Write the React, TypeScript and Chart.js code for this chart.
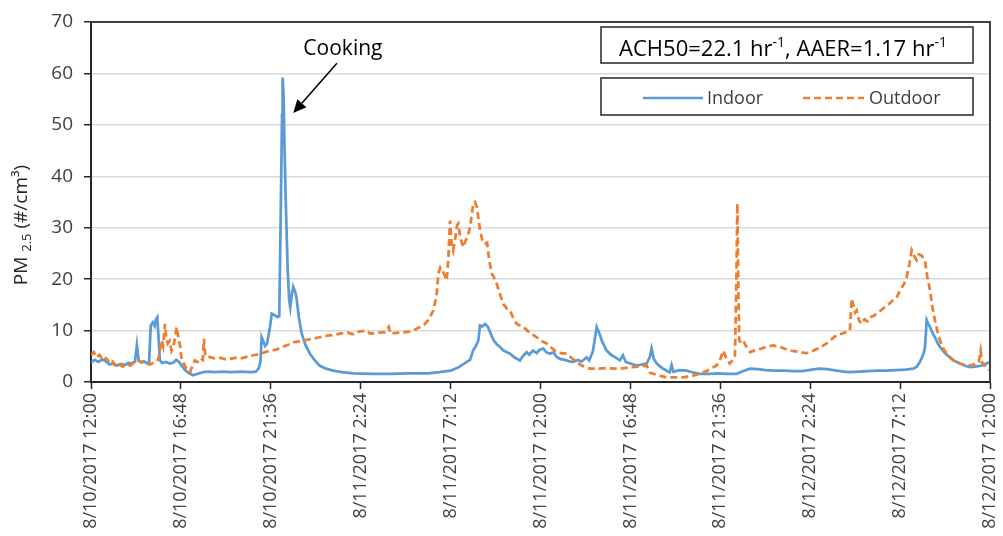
import React, { useEffect, useRef } from "react";
import { Chart, registerables } from "chart.js";

Chart.register(...registerables);

// Hours since 8/10/2017 12:00 and PM2.5 readings
const indoorHours = [
  0, 0.2, 0.4, 0.6, 0.8, 1.0, 1.2, 1.4, 1.6, 1.8, 2.0, 2.2, 2.35, 2.45, 2.55, 2.7, 2.85, 3.0, 3.1, 3.19,
  3.3, 3.4, 3.47, 3.54, 3.6, 3.68, 3.8, 4.0, 4.2, 4.4, 4.55, 4.7, 4.85, 5.0, 5.2, 5.45, 5.7, 6.0, 6.3, 6.6,
  7.0, 7.5, 8.0, 8.5, 8.8, 8.95, 9.05, 9.11, 9.2, 9.3, 9.4, 9.55, 9.65, 9.8, 9.95, 10.05, 10.12, 10.2, 10.23, 10.28,
  10.33, 10.4, 10.5, 10.58, 10.64, 10.72, 10.8, 10.9, 10.97, 11.1, 11.25, 11.45, 11.69, 11.95, 12.2, 12.55, 12.93, 13.4, 14.0, 15.0,
  16.0, 17.0, 18.0, 18.6, 19.2, 19.6, 20.06, 20.24, 20.4, 20.55, 20.68, 20.77, 20.9, 21.04, 21.2, 21.35, 21.5, 21.65, 21.84, 22.0,
  22.2, 22.37, 22.6, 22.9, 23.1, 23.26, 23.4, 23.6, 23.8, 23.95, 24.15, 24.3, 24.5, 24.7, 24.85, 25.04, 25.3, 25.55, 25.75, 26.0,
  26.2, 26.46, 26.6, 26.8, 27.0, 27.15, 27.3, 27.53, 27.8, 28.0, 28.24, 28.4, 28.55, 28.8, 29.13, 29.4, 29.67, 29.85, 29.93, 30.05,
  30.2, 30.5, 30.73, 30.9, 31.0, 31.1, 31.4, 31.8, 32.1, 32.5, 33.0, 33.5, 34.0, 34.47, 34.8, 35.18, 35.6, 36.0, 36.5, 37.0,
  37.5, 38.0, 38.5, 38.9, 39.3, 39.8, 40.2, 40.5, 41.0, 41.5, 42.0, 42.5, 43.0, 43.5, 43.9, 44.1, 44.26, 44.45, 44.53, 44.62,
  44.7, 44.8, 44.9, 45.06, 45.2, 45.33, 45.6, 45.86, 46.1, 46.4, 46.7, 46.93, 47.2, 47.6, 47.8, 48.0,
];
const indoorValues = [
  3.8, 4.3, 3.9, 4.4, 4.0, 3.4, 3.6, 3.2, 3.5, 3.3, 3.7, 3.6, 4.0, 7.2, 4.2, 3.8, 4.0, 3.6, 3.8, 11.0,
  11.6, 10.9, 12.2, 12.6, 9.0, 4.2, 3.7, 3.9, 3.6, 3.8, 4.3, 3.9, 3.1, 2.4, 1.8, 1.3, 1.6, 1.9, 2.0, 1.9,
  2.0, 1.9, 2.0, 1.9, 2.0, 2.6, 4.0, 8.7, 7.9, 7.0, 7.5, 10.5, 13.3, 13.0, 12.6, 12.8, 30.0, 52.0, 59.2, 56.0,
  46.0, 35.0, 22.0, 16.0, 14.5, 17.0, 18.5, 17.5, 16.5, 12.5, 9.4, 7.2, 5.5, 4.2, 3.2, 2.6, 2.2, 1.9, 1.7, 1.6,
  1.6, 1.7, 1.7, 1.9, 2.2, 2.8, 3.9, 4.3, 6.1, 7.0, 8.1, 11.0, 10.8, 11.3, 10.7, 9.3, 8.1, 7.4, 6.8, 6.2,
  5.8, 5.5, 4.8, 4.2, 5.2, 5.8, 5.3, 6.1, 5.6, 6.3, 6.5, 5.8, 5.5, 5.8, 4.9, 4.5, 4.3, 4.0, 3.9, 4.3,
  4.0, 4.8, 4.2, 6.0, 10.7, 9.4, 7.8, 6.1, 5.2, 4.8, 4.2, 5.2, 3.9, 3.6, 3.2, 3.4, 3.6, 5.0, 6.5, 4.5,
  3.6, 2.7, 2.2, 1.9, 3.3, 2.0, 2.3, 2.2, 1.9, 1.6, 1.6, 1.7, 1.6, 1.6, 2.1, 2.6, 2.5, 2.3, 2.2, 2.2,
  2.1, 2.1, 2.4, 2.6, 2.5, 2.2, 2.0, 1.9, 2.0, 2.1, 2.2, 2.2, 2.3, 2.4, 2.6, 3.0, 3.9, 5.5, 6.8, 12.0,
  11.3, 10.7, 9.8, 8.7, 7.6, 6.8, 5.6, 4.8, 4.1, 3.6, 3.1, 2.9, 3.0, 3.2, 3.6, 3.9,
];

const outdoorHours = [
  0, 0.15, 0.3, 0.45, 0.65, 0.8, 0.95, 1.1, 1.25, 1.37, 1.5, 1.7, 1.9, 2.1, 2.3, 2.5, 2.65, 2.8, 2.97, 3.15,
  3.35, 3.5, 3.6, 3.7, 3.77, 3.85, 3.95, 4.02, 4.1, 4.2, 4.3, 4.4, 4.5, 4.57, 4.65, 4.75, 4.85, 4.95, 5.1, 5.29,
  5.4, 5.55, 5.7, 5.85, 5.97, 6.03, 6.1, 6.3, 6.6, 6.9, 7.2, 7.4, 7.7, 8.0, 8.3, 8.65, 9.0, 9.3, 9.56, 9.9,
  10.2, 10.5, 10.8, 11.1, 11.5, 11.86, 12.2, 12.6, 12.9, 13.3, 13.7, 14.0, 14.3, 14.7, 14.9, 15.3, 15.7, 15.9, 16.0, 16.5,
  17.0, 17.3, 17.57, 17.8, 18.0, 18.15, 18.28, 18.4, 18.46, 18.55, 18.65, 18.72, 18.85, 18.99, 19.08, 19.17, 19.25, 19.34, 19.45, 19.55,
  19.61, 19.7, 19.8, 19.88, 20.0, 20.1, 20.24, 20.35, 20.41, 20.5, 20.6, 20.7, 20.77, 20.9, 21.04, 21.15, 21.25, 21.39, 21.5, 21.66,
  21.8, 22.01, 22.2, 22.37, 22.55, 22.73, 22.9, 23.08, 23.3, 23.55, 23.8, 24.05, 24.33, 24.6, 24.86, 25.1, 25.4, 25.65, 25.93, 26.2,
  26.45, 26.64, 27.0, 27.5, 28.0, 28.24, 28.7, 29.2, 29.67, 29.85, 30.02, 30.4, 30.73, 31.2, 31.6, 32.0, 32.5, 32.9, 33.2, 33.4,
  33.6, 33.76, 33.9, 34.1, 34.25, 34.38, 34.46, 34.51, 34.56, 34.61, 34.7, 34.83, 35.0, 35.18, 35.5, 35.8, 36.1, 36.43, 36.8, 37.0,
  37.32, 37.7, 38.0, 38.21, 38.5, 38.8, 39.1, 39.4, 39.6, 39.81, 40.1, 40.35, 40.52, 40.58, 40.61, 40.7, 40.8, 40.88, 41.0, 41.15,
  41.3, 41.45, 41.59, 41.8, 42.0, 42.3, 42.5, 42.7, 43.02, 43.2, 43.4, 43.55, 43.7, 43.82, 43.95, 44.08, 44.2, 44.35, 44.53, 44.65,
  44.8, 44.93, 45.06, 45.2, 45.33, 45.55, 45.86, 46.1, 46.4, 46.7, 46.93, 47.2, 47.4, 47.5, 47.58, 47.8, 48.0,
];
const outdoorValues = [
  5.2, 5.8, 4.8, 5.3, 4.2, 4.6, 4.0, 4.4, 3.3, 2.9, 3.4, 3.0, 3.5, 3.2, 3.8, 4.2, 3.9, 4.0, 3.6, 3.4,
  3.8, 4.0, 4.5, 6.5, 8.1, 7.0, 11.3, 8.5, 7.5, 8.0, 6.1, 7.0, 8.8, 10.7, 9.0, 7.1, 4.2, 3.6, 2.6, 1.9,
  3.0, 4.2, 3.9, 4.6, 4.3, 8.4, 5.0, 4.9, 4.6, 4.7, 4.4, 4.5, 4.7, 4.6, 4.9, 5.2, 5.4, 5.8, 6.1, 6.3,
  6.8, 7.2, 7.7, 7.9, 8.2, 8.4, 8.7, 9.0, 9.1, 9.4, 9.6, 9.3, 9.8, 10.0, 9.4, 9.6, 9.7, 10.7, 9.4, 9.6,
  9.8, 10.2, 10.7, 11.2, 12.0, 13.0, 13.9, 16.0, 17.2, 21.1, 22.3, 22.0, 21.0, 19.8, 24.0, 31.4, 27.0, 25.6, 28.0, 30.5,
  30.8, 28.5, 27.0, 26.2, 27.5, 28.2, 30.1, 33.0, 34.7, 35.0, 34.0, 31.5, 29.5, 27.5, 26.9, 27.1, 24.0, 21.1, 20.5, 19.1,
  17.5, 15.2, 14.3, 13.9, 12.4, 11.3, 11.0, 10.7, 10.0, 9.3, 8.7, 8.0, 7.5, 6.6, 5.8, 5.6, 5.5, 4.7, 3.9, 3.2,
  2.8, 2.6, 2.6, 2.7, 2.6, 2.6, 2.8, 3.0, 3.2, 1.8, 1.6, 1.2, 0.9, 0.9, 0.9, 1.1, 1.6, 2.2, 2.8, 3.2,
  4.5, 6.1, 4.8, 3.6, 4.2, 4.8, 20.0, 34.7, 20.0, 8.1, 7.6, 8.0, 6.8, 5.8, 6.2, 6.5, 6.9, 7.1, 6.8, 6.5,
  6.1, 5.9, 5.7, 5.6, 6.0, 6.5, 7.1, 7.8, 8.5, 9.1, 9.4, 9.8, 10.0, 14.0, 16.2, 15.0, 13.5, 13.9, 12.0, 11.3,
  12.2, 11.8, 12.6, 12.9, 13.4, 14.3, 14.8, 15.5, 16.5, 17.8, 19.0, 20.4, 23.0, 25.6, 24.5, 23.7, 24.8, 24.6, 23.5, 20.5,
  17.8, 14.5, 12.0, 9.8, 8.1, 6.2, 4.8, 4.0, 3.6, 3.3, 3.2, 3.5, 3.9, 6.1, 3.7, 3.0, 2.2,
];

const tickHours = [0, 4.8, 9.6, 14.4, 19.2, 24, 28.8, 33.6, 38.4, 43.2, 48];
const tickLabels = [
  "8/10/2017 12:00", "8/10/2017 16:48", "8/10/2017 21:36", "8/11/2017 2:24", "8/11/2017 7:12",
  "8/11/2017 12:00", "8/11/2017 16:48", "8/11/2017 21:36", "8/12/2017 2:24", "8/12/2017 7:12",
  "8/12/2017 12:00",
];

const seriesNames = ["Indoor", "Outdoor"];
const INDOOR_COLOR = "#5B9BD5";
const OUTDOOR_COLOR = "#ED7D31";
const FAMILY = '"Open Sans", "Liberation Sans", sans-serif';
const TEXT = "#404040";

type Run = { text: string; size: number; dy: number };

function drawRuns(ctx: CanvasRenderingContext2D, runs: Run[], x: number, y: number, align: "left" | "center", color: string) {
  const widths = runs.map((r) => {
    ctx.font = `${r.size}px ${FAMILY}`;
    return ctx.measureText(r.text).width;
  });
  const total = widths.reduce((a, b) => a + b, 0);
  let cx = align === "center" ? x - total / 2 : x;
  ctx.textAlign = "left";
  ctx.textBaseline = "alphabetic";
  ctx.fillStyle = color;
  runs.forEach((r, i) => {
    ctx.font = `${r.size}px ${FAMILY}`;
    ctx.fillText(r.text, cx, y + r.dy);
    cx += widths[i];
  });
}

const decorations = {
  id: "decorations",
  afterDraw(chart: any) {
    const { ctx, chartArea, scales } = chart;
    const xs = scales.x;
    const ys = scales.y;
    ctx.save();

    // frame around the plot area
    ctx.strokeStyle = "#404040";
    ctx.lineWidth = 2;
    ctx.beginPath();
    ctx.moveTo(chartArea.left, chartArea.top);
    ctx.lineTo(chartArea.right, chartArea.top);
    ctx.lineTo(chartArea.right, chartArea.bottom);
    ctx.stroke();

    // info box
    ctx.fillStyle = "#fff";
    ctx.fillRect(601, 27, 372, 36);
    ctx.strokeStyle = "#262626";
    ctx.lineWidth = 1.5;
    ctx.strokeRect(601, 27, 372, 36);
    drawRuns(
      ctx,
      [
        { text: "ACH50=22.1 hr", size: 22, dy: 0 },
        { text: "-1", size: 14, dy: -9 },
        { text: ", AAER=1.17 hr", size: 22, dy: 0 },
        { text: "-1", size: 14, dy: -9 },
      ],
      783,
      56,
      "center",
      "#000"
    );

    // legend box
    ctx.fillStyle = "#fff";
    ctx.fillRect(601, 78, 372, 37);
    ctx.strokeStyle = "#262626";
    ctx.lineWidth = 1.5;
    ctx.strokeRect(601, 78, 372, 37);
    const ly = 98;
    ctx.lineWidth = 2.5;
    ctx.strokeStyle = INDOOR_COLOR;
    ctx.setLineDash([]);
    ctx.beginPath();
    ctx.moveTo(643, ly);
    ctx.lineTo(703, ly);
    ctx.stroke();
    ctx.strokeStyle = OUTDOOR_COLOR;
    ctx.setLineDash([7, 4]);
    ctx.beginPath();
    ctx.moveTo(803, ly);
    ctx.lineTo(864, ly);
    ctx.stroke();
    ctx.setLineDash([]);
    ctx.fillStyle = TEXT;
    ctx.font = `18px ${FAMILY}`;
    ctx.textAlign = "left";
    ctx.textBaseline = "alphabetic";
    ctx.fillText(seriesNames[0], 707, 104);
    ctx.fillText(seriesNames[1], 869, 104);

    // cooking annotation
    ctx.fillStyle = "#000";
    ctx.font = `21px ${FAMILY}`;
    ctx.textAlign = "center";
    ctx.fillText("Cooking", xs.getPixelForValue(13.45), ys.getPixelForValue(63.6));
    const sx = xs.getPixelForValue(13.13);
    const sy = ys.getPixelForValue(62.0);
    const tx = xs.getPixelForValue(10.8);
    const ty = ys.getPixelForValue(52.3);
    const ang = Math.atan2(ty - sy, tx - sx);
    const head = 13;
    const bx = tx - head * Math.cos(ang);
    const by = ty - head * Math.sin(ang);
    ctx.strokeStyle = "#000";
    ctx.lineWidth = 1.5;
    ctx.beginPath();
    ctx.moveTo(sx, sy);
    ctx.lineTo(bx, by);
    ctx.stroke();
    ctx.fillStyle = "#000";
    ctx.beginPath();
    ctx.moveTo(tx, ty);
    ctx.lineTo(bx + 6 * Math.sin(ang), by - 6 * Math.cos(ang));
    ctx.lineTo(bx - 6 * Math.sin(ang), by + 6 * Math.cos(ang));
    ctx.closePath();
    ctx.fill();

    // y-axis title with subscript
    ctx.translate(27, (chartArea.top + chartArea.bottom) / 2 + 23);
    ctx.rotate(-Math.PI / 2);
    drawRuns(
      ctx,
      [
        { text: "PM ", size: 19, dy: 0 },
        { text: "2.5", size: 13, dy: 4 },
        { text: " (#/cm³)", size: 19, dy: 0 },
      ],
      0,
      0,
      "center",
      "#262626"
    );
    ctx.restore();
  },
};

export default function App() {
  const canvasRef = useRef<HTMLCanvasElement | null>(null);

  useEffect(() => {
    const canvas = canvasRef.current;
    if (!canvas) return;
    const indoorPts = indoorHours.map((h, i) => ({ x: h, y: indoorValues[i] }));
    const outdoorPts = outdoorHours.map((h, i) => ({ x: h, y: outdoorValues[i] }));

    const chart = new Chart(canvas, {
      type: "line",
      data: {
        datasets: [
          {
            label: seriesNames[0],
            data: indoorPts,
            borderColor: INDOOR_COLOR,
            borderWidth: 2.75,
            pointRadius: 0,
            tension: 0,
            order: 1,
          },
          {
            label: seriesNames[1],
            data: outdoorPts,
            borderColor: OUTDOOR_COLOR,
            borderWidth: 2.75,
            borderDash: [7, 4],
            pointRadius: 0,
            tension: 0,
            order: 0,
          },
        ],
      },
      options: {
        responsive: false,
        animation: false,
        layout: { padding: { top: 22, right: 13, left: 0, bottom: 0 } },
        plugins: { legend: { display: false }, tooltip: { enabled: false } },
        scales: {
          x: {
            type: "linear",
            min: 0,
            max: 48,
            afterBuildTicks: (s: any) => {
              s.ticks = tickHours.map((v) => ({ value: v }));
            },
            afterFit: (s: any) => {
              s.height = 154;
              s.paddingLeft = 0;
              s.paddingRight = 0;
            },
            ticks: {
              autoSkip: false,
              minRotation: 90,
              maxRotation: 90,
              padding: 4,
              color: TEXT,
              font: { family: FAMILY, size: 18 },
              callback: (v: any) => tickLabels[tickHours.indexOf(Number(v))] ?? "",
            },
            grid: { drawOnChartArea: false, tickLength: 7, tickColor: "#262626", tickWidth: 1.5 },
            border: { color: "#262626", width: 2 },
          },
          y: {
            min: 0,
            max: 70,
            afterFit: (s: any) => {
              s.width = 91;
              s.paddingTop = 0;
              s.paddingBottom = 0;
            },
            ticks: {
              stepSize: 10,
              padding: 11,
              color: TEXT,
              font: { family: FAMILY, size: 19 },
            },
            grid: { color: "#d9d9d9", lineWidth: 1.5, tickLength: 7, tickColor: "#262626", tickWidth: 1.5 },
            border: { color: "#262626", width: 2 },
          },
        },
      },
      plugins: [decorations],
    });
    return () => chart.destroy();
  }, []);

  return (
    <div style={{ position: "fixed", left: 0, top: 0, width: 1003, height: 536, background: "#fff" }}>
      <canvas ref={canvasRef} width={1003} height={536} />
    </div>
  );
}
